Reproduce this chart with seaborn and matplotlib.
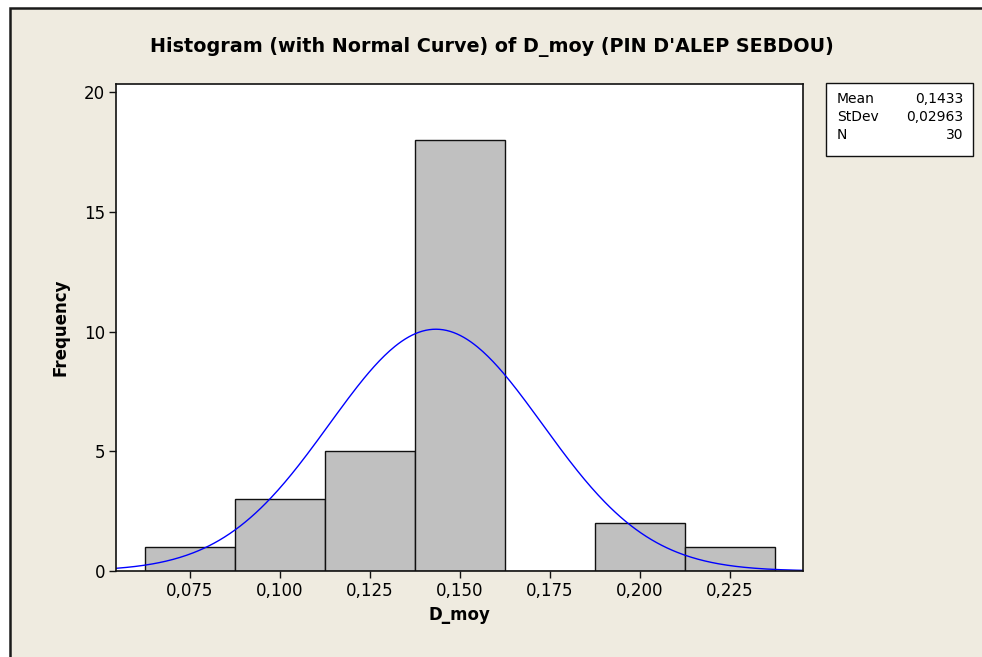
import numpy as np
import pandas as pd
import matplotlib
matplotlib.use("Agg")
import matplotlib.pyplot as plt
import seaborn as sns
from matplotlib.patches import Rectangle

# ---- data ----
bin_centers = [0.075, 0.100, 0.125, 0.150, 0.175, 0.200, 0.225]
counts = [1, 3, 5, 18, 0, 2, 1]
x_tick_values = [0.075, 0.100, 0.125, 0.150, 0.175, 0.200, 0.225]
x_tick_labels = ["0,075", "0,100", "0,125", "0,150", "0,175", "0,200", "0,225"]
y_tick_values = [0, 5, 10, 15, 20]
mean_val = 0.1433
stdev_val = 0.02963
n_val = 30
stat_names = ["Mean", "StDev", "N"]
stat_texts = ["0,1433", "0,02963", "30"]
title = "Histogram (with Normal Curve) of D_moy (PIN D'ALEP SEBDOU)"

sns.set_style("white")
plt.rcParams['font.family'] = ['DejaVu Sans']
plt.rcParams['text.color'] = 'black'
plt.rcParams['axes.labelcolor'] = 'black'
plt.rcParams['xtick.color'] = 'black'
plt.rcParams['ytick.color'] = 'black'

bg = "#efebe0"
fig = plt.figure(figsize=(9.82, 6.57), dpi=100)
fig.patch.set_facecolor("white")
# outer frame (cropped at right/bottom)
fig.patches.append(Rectangle((10/982, -0.05), 1.1, 1 - 8/657 + 0.05, transform=fig.transFigure,
                             facecolor=bg, edgecolor="#1a1a1a", linewidth=1.8, zorder=-10))

ax = fig.add_axes([116/982, 1 - 571/657, 687/982, (571 - 84)/657])
ax.set_facecolor("white")

df = pd.DataFrame({"x": bin_centers, "w": counts})
bw = 0.025
sns.histplot(data=df, x="x", weights="w", binwidth=bw, binrange=(0.0625, 0.2375),
             color="#c0c0c0", edgecolor="#111111", linewidth=1.0, alpha=1.0, ax=ax)

xmin, xmax = 0.05444, 0.2453
xs = np.linspace(xmin, xmax, 400)
ys = n_val * bw * np.exp(-0.5 * ((xs - mean_val) / stdev_val) ** 2) / (stdev_val * np.sqrt(2 * np.pi))
sns.lineplot(x=xs, y=ys, color="#0000ff", linewidth=1.0, ax=ax)

ax.set_xlim(xmin, xmax)
ax.set_ylim(0, 20.34)
ax.set_xticks(x_tick_values)
ax.set_xticklabels(x_tick_labels)
ax.set_yticks(y_tick_values)
ax.tick_params(axis="both", direction="out", length=5, width=1, color="#111111",
               labelsize=12, pad=3, bottom=True, left=True, labelcolor="black")
for s in ax.spines.values():
    s.set_color("#111111")
    s.set_linewidth(1.2)

ax.set_xlabel("D_moy", fontsize=12, fontweight="bold", labelpad=4, color="black")
ax.set_ylabel("Frequency", fontsize=12, fontweight="bold", labelpad=10, color="black")

fig.text(492/982, 1 - 47/657, title, ha="center", va="center", fontsize=13.8,
         fontweight="bold", color="black")

# stats box
fig.patches.append(Rectangle((826/982, 1 - 156/657), (973 - 826)/982, (156 - 83)/657,
                             transform=fig.transFigure, facecolor="white", edgecolor="#111111",
                             linewidth=1.0))
row_y = [99, 117, 135]
for name, txt, yy in zip(stat_names, stat_texts, row_y):
    fig.text(837/982, 1 - yy/657, name, ha="left", va="center", fontsize=10, color="black")
    fig.text(963/982, 1 - yy/657, txt, ha="right", va="center", fontsize=10, color="black")

fig.savefig("out.png", dpi=100, facecolor=fig.get_facecolor())
